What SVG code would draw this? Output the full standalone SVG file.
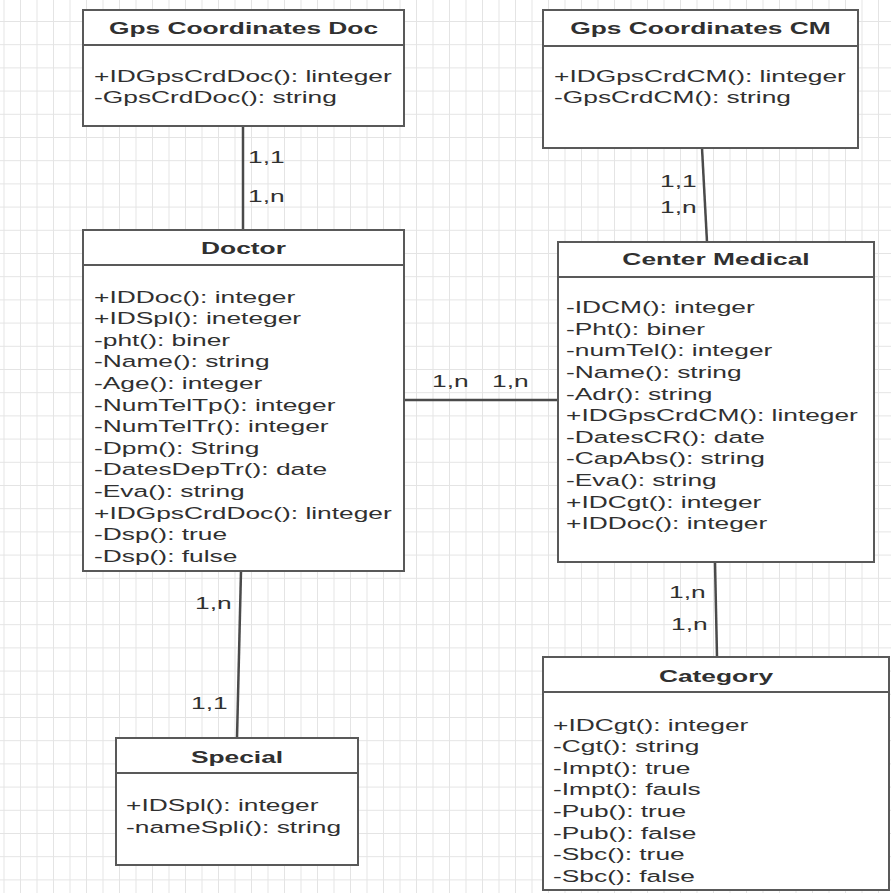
<svg xmlns="http://www.w3.org/2000/svg" width="891" height="893" viewBox="0 0 891 893">
<style>
.box{fill:#fff;stroke:#595959;stroke-width:2}
.div{stroke:#595959;stroke-width:2}
.t{font-family:"Liberation Sans",Arial,sans-serif;font-size:17px;fill:#303030}
.h{font-family:"Liberation Sans",Arial,sans-serif;font-size:17px;font-weight:bold;fill:#303030;text-anchor:middle}
.c{stroke:#4a4a4a;stroke-width:2.5;fill:none}
</style>
<defs>
<pattern id="gv" x="3.5" y="0" width="16.5" height="893" patternUnits="userSpaceOnUse"><line x1="0.5" y1="0" x2="0.5" y2="893" stroke="#e4e4e4" stroke-width="1"/></pattern>
<pattern id="gh" x="0" y="21" width="891" height="23.2" patternUnits="userSpaceOnUse"><line x1="0" y1="0.5" x2="891" y2="0.5" stroke="#e4e4e4" stroke-width="1"/></pattern>
</defs>
<rect width="891" height="893" fill="#fff"/>
<rect width="891" height="893" fill="url(#gv)"/>
<rect width="891" height="893" fill="url(#gh)"/>

<g id="connectors">
<line class="c" x1="243" y1="126" x2="243" y2="230"/>
<line class="c" x1="702" y1="148" x2="707" y2="242"/>
<line class="c" x1="404" y1="400" x2="558" y2="400"/>
<line class="c" x1="241" y1="571" x2="237" y2="738"/>
<line class="c" x1="715" y1="562" x2="717" y2="657"/>
<text class="t" transform="translate(248,163) scale(1.55,1)">1,1</text>
<text class="t" transform="translate(248,202) scale(1.55,1)">1,n</text>
<text class="t" transform="translate(660,187) scale(1.55,1)">1,1</text>
<text class="t" transform="translate(660,213) scale(1.55,1)">1,n</text>
<text class="t" transform="translate(432,387) scale(1.55,1)">1,n</text>
<text class="t" transform="translate(492,387) scale(1.55,1)">1,n</text>
<text class="t" transform="translate(195,609) scale(1.55,1)">1,n</text>
<text class="t" transform="translate(191,709) scale(1.55,1)">1,1</text>
<text class="t" transform="translate(669,598) scale(1.55,1)">1,n</text>
<text class="t" transform="translate(671,630) scale(1.55,1)">1,n</text>
</g>

<g id="gps-doc">
<rect class="box" x="83" y="10" width="321" height="116"/>
<line class="div" x1="83" y1="45" x2="404" y2="45"/>
<text class="h" transform="translate(243.5,34) scale(1.55,1)">Gps Coordinates Doc</text>
<text class="t" transform="translate(94,82) scale(1.55,1)"><tspan x="0" y="0">+IDGpsCrdDoc(): linteger</tspan><tspan x="0" y="21">-GpsCrdDoc(): string</tspan></text>
</g>

<g id="gps-cm">
<rect class="box" x="543" y="10" width="315" height="138"/>
<line class="div" x1="543" y1="46" x2="858" y2="46"/>
<text class="h" transform="translate(700.5,34) scale(1.55,1)">Gps Coordinates CM</text>
<text class="t" transform="translate(554,82) scale(1.55,1)"><tspan x="0" y="0">+IDGpsCrdCM(): linteger</tspan><tspan x="0" y="21">-GpsCrdCM(): string</tspan></text>
</g>

<g id="doctor">
<rect class="box" x="83" y="230" width="321" height="341"/>
<line class="div" x1="83" y1="265" x2="404" y2="265"/>
<text class="h" transform="translate(243.5,254) scale(1.55,1)">Doctor</text>
<text class="t" transform="translate(94,302.6) scale(1.55,1)"><tspan x="0" y="0">+IDDoc(): integer</tspan><tspan x="0" y="21.6">+IDSpl(): ineteger</tspan><tspan x="0" y="43.2">-pht(): biner</tspan><tspan x="0" y="64.8">-Name(): string</tspan><tspan x="0" y="86.4">-Age(): integer</tspan><tspan x="0" y="108">-NumTelTp(): integer</tspan><tspan x="0" y="129.6">-NumTelTr(): integer</tspan><tspan x="0" y="151.2">-Dpm(): String</tspan><tspan x="0" y="172.8">-DatesDepTr(): date</tspan><tspan x="0" y="194.4">-Eva(): string</tspan><tspan x="0" y="216">+IDGpsCrdDoc(): linteger</tspan><tspan x="0" y="237.6">-Dsp(): true</tspan><tspan x="0" y="259.2">-Dsp(): fulse</tspan></text>
</g>

<g id="center-medical">
<rect class="box" x="558" y="242" width="316" height="320"/>
<line class="div" x1="558" y1="277" x2="874" y2="277"/>
<text class="h" transform="translate(716,265) scale(1.55,1)">Center Medical</text>
<text class="t" transform="translate(566,313.3) scale(1.55,1)"><tspan x="0" y="0">-IDCM(): integer</tspan><tspan x="0" y="21.6">-Pht(): biner</tspan><tspan x="0" y="43.2">-numTel(): integer</tspan><tspan x="0" y="64.8">-Name(): string</tspan><tspan x="0" y="86.4">-Adr(): string</tspan><tspan x="0" y="108">+IDGpsCrdCM(): linteger</tspan><tspan x="0" y="129.6">-DatesCR(): date</tspan><tspan x="0" y="151.2">-CapAbs(): string</tspan><tspan x="0" y="172.8">-Eva(): string</tspan><tspan x="0" y="194.4">+IDCgt(): integer</tspan><tspan x="0" y="216">+IDDoc(): integer</tspan></text>
</g>

<g id="category">
<rect class="box" x="543" y="657" width="346" height="233"/>
<line class="div" x1="543" y1="692" x2="889" y2="692"/>
<text class="h" transform="translate(716,681.5) scale(1.55,1)">Category</text>
<text class="t" transform="translate(553,730.7) scale(1.55,1)"><tspan x="0" y="0">+IDCgt(): integer</tspan><tspan x="0" y="21.57">-Cgt(): string</tspan><tspan x="0" y="43.14">-Impt(): true</tspan><tspan x="0" y="64.71">-Impt(): fauls</tspan><tspan x="0" y="86.28">-Pub(): true</tspan><tspan x="0" y="107.85">-Pub(): false</tspan><tspan x="0" y="129.42">-Sbc(): true</tspan><tspan x="0" y="151">-Sbc(): false</tspan></text>
</g>

<g id="special">
<rect class="box" x="116" y="738" width="242" height="127"/>
<line class="div" x1="116" y1="773" x2="358" y2="773"/>
<text class="h" transform="translate(237,762.5) scale(1.55,1)">Special</text>
<text class="t" transform="translate(126,810.7) scale(1.55,1)"><tspan x="0" y="0">+IDSpl(): integer</tspan><tspan x="0" y="22">-nameSpli(): string</tspan></text>
</g>
</svg>
